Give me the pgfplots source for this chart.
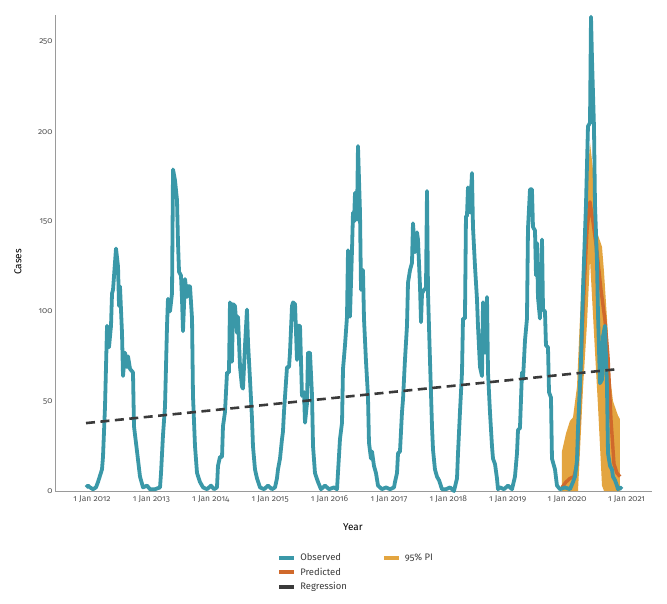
\documentclass[border=0pt]{standalone}
\usepackage{fontspec}
\setmainfont{Fira Sans}[Numbers=OldStyle]
\usepackage{pgfplots}
\pgfplotsset{compat=1.18}
\definecolor{obs}{HTML}{3A98A8}
\definecolor{pred}{HTML}{D0692B}
\definecolor{pib}{HTML}{E3A540}
\definecolor{reg}{HTML}{3A3A3A}
\definecolor{axisgray}{HTML}{9A9A9A}
\definecolor{txt}{HTML}{555555}
\definecolor{lab}{HTML}{3A3A3A}
\begin{document}
\begin{tikzpicture}
\useasboundingbox (0,0) rectangle (667bp,604bp);
\begin{axis}[
  at={(55bp,113bp)}, anchor=south west,
  scale only axis, width=597bp, height=476bp,
  xmin=2011.478, xmax=2021.529, ymin=0, ymax=265,
  axis lines*=left,
  axis line style={axisgray, line width=0.8bp},
  clip=false,
  major tick length=0pt,
  ytick={0,50,100,150,200,250},
  xtick={2012.1,2013.1,2014.1,2015.1,2016.1,2017.1,2018.1,2019.1,2020.1,2021.1},
  xticklabels={1 Jan 2012,1 Jan 2013,1 Jan 2014,1 Jan 2015,1 Jan 2016,1 Jan 2017,1 Jan 2018,1 Jan 2019,1 Jan 2020,1 Jan 2021},
  /pgf/number format/assume math mode=true,
  ticklabel style={font=\fontsize{8.5}{10}\selectfont, text=txt},
  yticklabel style={xshift=1bp},
  xticklabel style={yshift=-1bp},
  label style={font=\fontsize{9.5}{11}\selectfont, text=lab},
  xlabel={Year},
  ylabel={Cases},
  every axis x label/.style={at={(axis description cs:0.499,-0.0756)}, anchor=center},
  every axis y label/.style={at={(axis description cs:-0.062,0.481)}, anchor=center, rotate=90},
  legend columns=2,
  legend style={at={(axis description cs:0.372,-0.127)}, anchor=north west,
    draw=none, fill=none, inner sep=0pt,
    font=\fontsize{9.5}{11}\selectfont, text=lab,
    row sep=1.5bp,
    /tikz/every odd column/.append style={column sep=2bp},
    /tikz/every even column/.append style={column sep=33bp}},
  legend cell align=left,
]
% 95% prediction interval (upper left to right, lower right to left)
\addplot[fill=pib, draw=none, forget plot] coordinates {
(2020.013,22) (2020.081,32) (2020.148,39) (2020.199,41) (2020.266,58) (2020.316,96)
(2020.367,133) (2020.434,169) (2020.485,194) (2020.535,179) (2020.603,144) (2020.687,136)
(2020.721,122) (2020.771,96) (2020.822,64) (2020.872,50) (2020.956,42) (2020.990,40)
(2020.990,0) (2020.721,0) (2020.687,3) (2020.620,47) (2020.552,88) (2020.485,129)
(2020.434,93) (2020.367,57) (2020.316,22) (2020.283,0) (2020.013,0)
} -- cycle;
% Predicted
\addplot[pred, line width=3.4bp, line join=round, forget plot] coordinates {
(2020.013,2) (2020.081,5) (2020.148,7) (2020.215,8) (2020.266,15) (2020.316,55)
(2020.367,100) (2020.434,145) (2020.485,161) (2020.535,150) (2020.603,133) (2020.670,112)
(2020.737,95) (2020.788,75) (2020.838,40) (2020.889,15) (2020.939,10) (2020.990,8)
};
% Observed
\addplot[obs, line width=3.8bp, line join=round, forget plot] coordinates {
(2012.000,2) (2012.034,3) (2012.067,2) (2012.118,1) (2012.168,2) (2012.202,5)
(2012.269,12) (2012.286,19) (2012.320,47) (2012.354,92) (2012.387,80) (2012.421,92)
(2012.438,110) (2012.455,112) (2012.505,135) (2012.539,125) (2012.556,103) (2012.572,114)
(2012.606,88) (2012.623,64) (2012.657,77) (2012.690,69) (2012.707,75) (2012.741,68)
(2012.791,66) (2012.808,36) (2012.859,22) (2012.909,8) (2012.960,2) (2013.027,3)
(2013.077,1) (2013.162,1) (2013.246,2) (2013.263,10) (2013.296,31) (2013.330,47)
(2013.364,92) (2013.380,107) (2013.414,100) (2013.448,110) (2013.465,179) (2013.498,173)
(2013.532,162) (2013.549,138) (2013.566,122) (2013.599,120) (2013.616,107) (2013.633,89)
(2013.667,118) (2013.700,108) (2013.717,114) (2013.751,114) (2013.785,96) (2013.801,53)
(2013.835,25) (2013.869,10) (2013.919,5) (2013.970,2) (2014.037,1) (2014.104,3)
(2014.155,1) (2014.205,2) (2014.222,14) (2014.256,19) (2014.290,19) (2014.306,36)
(2014.340,44) (2014.374,66) (2014.407,66) (2014.424,105) (2014.458,72) (2014.475,104)
(2014.508,103) (2014.542,88) (2014.559,97) (2014.593,69) (2014.626,58) (2014.643,57)
(2014.677,81) (2014.710,101) (2014.727,83) (2014.761,62) (2014.795,40) (2014.811,25)
(2014.845,12) (2014.879,7) (2014.929,2) (2014.997,1) (2015.064,3) (2015.131,1)
(2015.182,2) (2015.215,7) (2015.232,12) (2015.266,18) (2015.300,29) (2015.316,33)
(2015.333,44) (2015.384,69) (2015.418,69) (2015.434,77) (2015.468,103) (2015.485,105)
(2015.519,104) (2015.552,73) (2015.569,92) (2015.603,92) (2015.636,53) (2015.670,55)
(2015.687,38) (2015.721,49) (2015.737,77) (2015.771,77) (2015.805,53) (2015.822,25)
(2015.855,10) (2015.906,5) (2015.956,1) (2016.024,3) (2016.091,1) (2016.175,2)
(2016.226,1) (2016.242,10) (2016.276,29) (2016.310,38) (2016.327,68) (2016.360,81)
(2016.394,97) (2016.411,134) (2016.444,97) (2016.478,134) (2016.495,155) (2016.512,150)
(2016.529,166) (2016.562,151) (2016.579,192) (2016.613,155) (2016.630,112) (2016.663,123)
(2016.680,96) (2016.714,72) (2016.747,53) (2016.764,27) (2016.798,18) (2016.815,22)
(2016.848,14) (2016.882,10) (2016.916,3) (2016.983,1) (2017.051,2) (2017.118,1)
(2017.185,2) (2017.202,5) (2017.236,10) (2017.253,21) (2017.286,22) (2017.320,44)
(2017.337,51) (2017.370,73) (2017.404,92) (2017.421,116) (2017.455,123) (2017.488,127)
(2017.505,149) (2017.539,133) (2017.572,144) (2017.589,140) (2017.623,114) (2017.640,94)
(2017.657,110) (2017.690,112) (2017.724,113) (2017.741,167) (2017.758,110) (2017.791,73)
(2017.825,36) (2017.842,23) (2017.875,12) (2017.909,8) (2017.943,6) (2017.993,1)
(2018.061,1) (2018.128,2) (2018.195,0) (2018.246,7) (2018.263,21) (2018.296,44)
(2018.330,66) (2018.347,96) (2018.380,96) (2018.397,153) (2018.414,153) (2018.431,169)
(2018.465,155) (2018.498,177) (2018.515,147) (2018.549,125) (2018.582,107) (2018.599,92)
(2018.633,69) (2018.667,64) (2018.684,105) (2018.717,77) (2018.751,108) (2018.768,66)
(2018.801,44) (2018.835,25) (2018.852,18) (2018.886,15) (2018.919,7) (2018.936,1)
(2018.970,2) (2019.037,1) (2019.104,3) (2019.172,1) (2019.222,8) (2019.256,21)
(2019.273,34) (2019.306,35) (2019.340,66) (2019.357,62) (2019.391,84) (2019.424,96)
(2019.441,146) (2019.475,168) (2019.508,168) (2019.525,147) (2019.559,145) (2019.576,120)
(2019.593,138) (2019.609,108) (2019.643,96) (2019.677,140) (2019.694,101) (2019.727,100)
(2019.744,81) (2019.778,80) (2019.795,55) (2019.828,52) (2019.845,18) (2019.896,12)
(2019.929,3) (2019.980,1) (2020.064,2) (2020.148,1) (2020.199,5) (2020.232,8)
(2020.266,17) (2020.283,35) (2020.333,72) (2020.367,112) (2020.418,160) (2020.451,203)
(2020.485,205) (2020.502,264) (2020.519,240) (2020.552,203) (2020.569,160) (2020.603,127)
(2020.620,98) (2020.653,60) (2020.687,62) (2020.704,86) (2020.737,92) (2020.771,58)
(2020.788,21) (2020.822,14) (2020.855,12) (2020.872,8) (2020.906,6) (2020.939,3)
(2020.956,1) (2020.990,2) (2021.024,1)
};
% Regression
\addplot[reg, line width=2.6bp, dash pattern=on 9bp off 5.5bp, forget plot] coordinates {
(2012.000,37.8) (2020.939,67.8)
};
% Legend
\addlegendimage{legend image code/.code={\draw[obs, line width=4bp] (0bp,0bp) -- (15bp,0bp);}}
\addlegendentry{Observed}
\addlegendimage{legend image code/.code={\draw[pib, line width=4bp] (0bp,0bp) -- (15bp,0bp);}}
\addlegendentry{95\% PI}
\addlegendimage{legend image code/.code={\draw[pred, line width=4bp] (0bp,0bp) -- (15bp,0bp);}}
\addlegendentry{Predicted}
\addlegendimage{empty legend}
\addlegendentry{}
\addlegendimage{legend image code/.code={\draw[reg, line width=4bp] (0bp,0bp) -- (15bp,0bp);}}
\addlegendentry{Regression}
\addlegendimage{empty legend}
\addlegendentry{}
\end{axis}
\end{tikzpicture}
\end{document}
